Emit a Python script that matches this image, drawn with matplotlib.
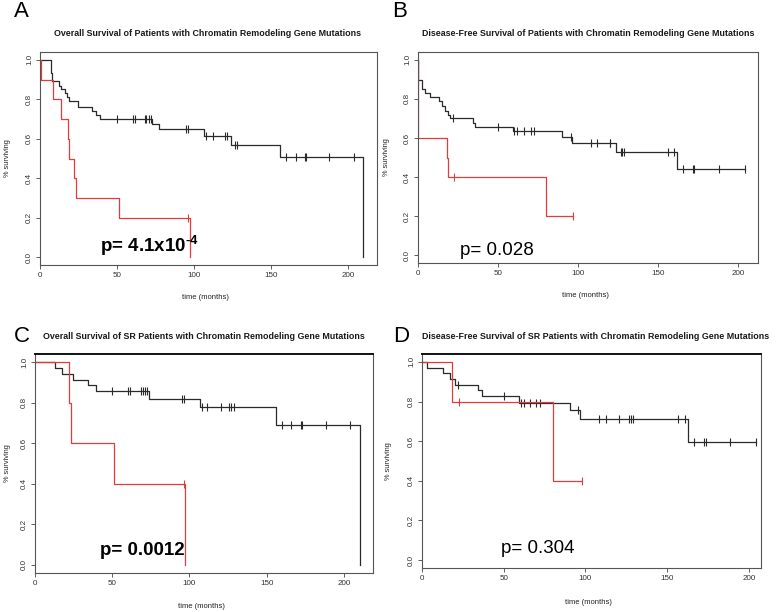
import matplotlib
matplotlib.use("Agg")
import matplotlib.pyplot as plt
import numpy as np

plt.rcParams['font.family'] = ['Liberation Sans', 'DejaVu Sans']
plt.rcParams['mathtext.fontset'] = 'custom'
plt.rcParams['mathtext.rm'] = 'Liberation Sans'
plt.rcParams['mathtext.bf'] = 'Liberation Sans:bold'

# ---------------- data ----------------
# Panel A: Overall survival
a_black_t = [0, 7.1, 8.0, 12.5, 13.8, 16.4, 17.3, 18.6, 24.8, 33.9, 36.5, 38.9, 72.6, 76.9, 106.5, 123.8, 156.0, 209.5]
a_black_s = [1.0, 0.935, 0.895, 0.87, 0.85, 0.83, 0.81, 0.79, 0.76, 0.74, 0.72, 0.70, 0.675, 0.65, 0.615, 0.57, 0.51, 0.0]
a_black_c = [49.7, 60.3, 61.6, 68, 69, 71, 72.3, 95, 96, 107.6, 111.9, 119.9, 121, 126.3, 127.9,
             159.8, 165.9, 172.1, 172.8, 187.5, 203.7]
a_red_t = [0, 0.4, 8.6, 13.8, 17.9, 19.0, 21.8, 23.3, 51.0, 97.2]
a_red_s = [1.0, 0.9, 0.8, 0.7, 0.6, 0.5, 0.4, 0.3, 0.2, 0.0]
a_red_c = [96.3]

# Panel B: Disease-free survival
b_black_t = [0, 0, 2.7, 4.6, 7.5, 12.9, 15.0, 16.9, 18.8, 19.8, 34.2, 35.5, 59.2, 89.9, 96.1, 123.9, 162.0]
b_black_s = [1.0, 0.895, 0.85, 0.83, 0.81, 0.787, 0.765, 0.74, 0.72, 0.70, 0.678, 0.656, 0.634, 0.607, 0.575, 0.528, 0.44]
b_black_c = [21.9, 50, 60, 62, 66, 70.6, 72.3, 95.7, 108, 111.8, 119.7, 120.3, 126.8, 127.8, 128.9,
             156.2, 160.2, 165.8, 171.8, 172.7, 188.1, 204.2]
b_red_t = [0, 0, 18.1, 19.0, 80.0]
b_red_s = [1.0, 0.6, 0.5, 0.4, 0.2]
b_red_c = [22.5, 97.0]

# Panel C: Overall survival, SR patients
c_black_t = [0, 13.0, 17.5, 24.4, 34.0, 39.6, 74.0, 107.0, 156.3, 210.2]
c_black_s = [1.0, 0.97, 0.94, 0.914, 0.885, 0.857, 0.82, 0.777, 0.69, 0.0]
c_black_c = [50, 60.1, 61.2, 68.3, 69.6, 71.4, 72.6, 95.4, 96.4, 107.9, 111.6, 120.2, 125.8, 126.9, 128.9,
             160.2, 166, 172.1, 172.8, 188.1, 204.1]
c_red_t = [0, 22.0, 23.4, 51.2, 97.3]
c_red_s = [1.0, 0.8, 0.6, 0.4, 0.0]
c_red_c = [96.4]

# Panel D: Disease-free survival, SR patients
d_black_t = [0, 3.3, 12.6, 17.1, 20.0, 34.4, 36.5, 59.5, 90.6, 96.5, 163.1]
d_black_s = [1.0, 0.97, 0.943, 0.914, 0.885, 0.857, 0.826, 0.795, 0.756, 0.713, 0.597]
d_black_c = [22.2, 50.3, 60.5, 62.7, 66.4, 70, 72.1, 95.3, 108.6, 112.6, 120.8, 126.5, 127.7, 129.3,
             156.6, 160.7, 166.6, 172.7, 173.7, 188.6, 204.5]
d_red_t = [0, 18.5, 80.4]
d_red_s = [1.0, 0.8, 0.4]
d_red_c = [22.6, 98.0]

panel_letters = ["A", "B", "C", "D"]
titles = ["Overall Survival of Patients with Chromatin Remodeling Gene Mutations",
          "Disease-Free Survival of Patients with Chromatin Remodeling Gene Mutations",
          "Overall Survival of SR Patients with Chromatin Remodeling Gene Mutations",
          "Disease-Free Survival of SR Patients with Chromatin Remodeling Gene Mutations"]
p_texts = [r"p= 4.1x10$^{\mathbf{‐4}}$", "p= 0.028", "p= 0.0012", "p= 0.304"]
p_bold = [True, False, True, False]
x_ticks = [0, 50, 100, 150, 200]
y_ticks = [0.0, 0.2, 0.4, 0.6, 0.8, 1.0]

# ---------------- layout ----------------
W, H = 777, 612
fig = plt.figure(figsize=(W / 100, H / 100), dpi=100)

# axes rectangles in pixels: left, right, top, bottom
boxes = [(40, 377, 52, 265), (418, 758, 52, 263), (35, 373, 354, 573), (422, 761, 354, 568)]
xmaxs = [218.6, 212.5, 218.8, 207.5]
p_pos = [(38.9, 0.027), (26.5, 0.0), (42.0, 0.05), (48.3, 0.035)]
title_pos = [(208, 34), (588, 33), (204, 336), (596, 336)]
letter_pos = [(14, 17), (392, 17), (14, 342), (393, 342)]
ylabel_x = [8, 387, 8, 388]
xlabel_y = [297, 295, 607, 602]
top_heavy = [False, False, True, True]

BLACK = "#2a2a2a"
RED = "#e23c3c"

curves = [
    ((a_black_t, a_black_s, a_black_c), (a_red_t, a_red_s, a_red_c)),
    ((b_black_t, b_black_s, b_black_c), (b_red_t, b_red_s, b_red_c)),
    ((c_black_t, c_black_s, c_black_c), (c_red_t, c_red_s, c_red_c)),
    ((d_black_t, d_black_s, d_black_c), (d_red_t, d_red_s, d_red_c)),
]


def surv_at(t, s, x):
    idx = np.searchsorted(np.asarray(t), x, side="right") - 1
    return np.asarray(s)[idx]


def draw_curve(ax, t, s, c, color):
    end = max(t[-1], max(c) if c else 0)
    tt = list(t) + [end]
    ss = list(s) + [s[-1]]
    ax.step(tt, ss, where="post", color=color, lw=0.9)
    cs = surv_at(t, s, np.asarray(c))
    ax.plot(c, cs, linestyle="none", marker="|", markersize=6, mew=0.8, color=color)


for i in range(4):
    l, r, top, bot = boxes[i]
    ax = fig.add_axes([l / W, 1 - bot / H, (r - l) / W, (bot - top) / H])
    (bt, bs, bc), (rt, rs, rc) = curves[i]
    draw_curve(ax, bt, bs, bc, BLACK)
    draw_curve(ax, rt, rs, rc, RED)
    ax.set_xlim(0, xmaxs[i])
    ax.set_ylim(-0.04, 1.04)
    ax.set_xticks(x_ticks)
    ax.set_xticklabels([str(v) for v in x_ticks], fontsize=5.8)
    ax.set_yticks(y_ticks)
    ax.set_yticklabels([f"{v:.1f}" for v in y_ticks], fontsize=5.8, rotation=90, va="center")
    ax.tick_params(length=3, width=0.6, color="#444444", labelcolor="#333333", pad=2)
    for sp in ax.spines.values():
        sp.set_linewidth(0.8)
        sp.set_color("#555555")
    if top_heavy[i]:
        ax.spines["top"].set_linewidth(1.4)
        ax.spines["top"].set_color("#111111")
    ax.text(p_pos[i][0], p_pos[i][1], p_texts[i], fontsize=13.5,
            fontweight="bold" if p_bold[i] else "normal", color="black")
    fig.text(title_pos[i][0] / W, 1 - title_pos[i][1] / H, titles[i], fontsize=6.4,
             fontweight="bold", ha="center", va="center", color="#1a1a1a")
    fig.text(letter_pos[i][0] / W, 1 - letter_pos[i][1] / H, panel_letters[i], fontsize=16,
             ha="left", va="baseline", color="black")
    cy = (top + bot) / 2
    fig.text(ylabel_x[i] / W, 1 - cy / H, "% surviving", fontsize=5.3, rotation=90,
             ha="center", va="center", color="#222222")
    fig.text(((l + r) / 2 - 3) / W, 1 - xlabel_y[i] / H, "time (months)", fontsize=5.5,
             ha="center", va="center", color="#222222")

fig.savefig("out.png", dpi=100)
